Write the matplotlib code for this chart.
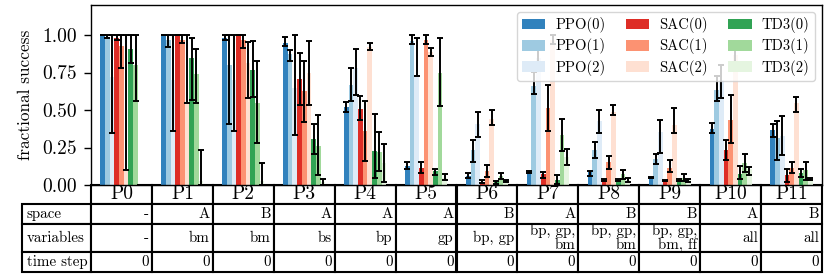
import numpy as np
import matplotlib
matplotlib.use("Agg")
from matplotlib import pyplot as plt

plt.rcParams['font.family'] = 'serif'
plt.rcParams['font.serif'] = ['cmr10', 'DejaVu Serif']
plt.rcParams['mathtext.fontset'] = 'cm'
plt.rcParams['axes.formatter.use_mathtext'] = True

# problemas e tabela
problems = ['P%d' % i for i in range(12)]
row_labels = ['space', 'variables', 'time step']
space = ['-', 'A', 'B', 'A', 'A', 'A', 'B', 'A', 'B', 'B', 'A', 'B']
variables = ['-', 'bm', 'bm', 'bs', 'bp', 'gp', 'bp, gp', 'bp, gp,\nbm',
             'bp, gp,\nbm', 'bp, gp,\nbm, ff', 'all', 'all']
time_step = ['0'] * 12

labels = ['PPO(0)', 'PPO(1)', 'PPO(2)', 'SAC(0)', 'SAC(1)', 'SAC(2)',
          'TD3(0)', 'TD3(1)', 'TD3(2)']
colors = ['#3182bd', '#9ecae1', '#deebf7', '#de2d26', '#fc9272', '#fee0d2',
          '#31a354', '#a1d99b', '#e5f5e0']

# valores (barra, limite inferior, limite superior)
ppo0 = [1.00, 1.00, 0.98, 0.95, 0.52, 0.13, 0.062, 0.089, 0.085, 0.049, 0.375, 0.368]
ppo0_lo = [1.00, 1.00, 0.965, 0.925, 0.486, 0.107, 0.045, 0.082, 0.062, 0.045, 0.346, 0.323]
ppo0_hi = [1.00, 1.00, 1.00, 0.99, 0.553, 0.152, 0.078, 0.095, 0.096, 0.053, 0.413, 0.406]

ppo1 = [0.99, 0.97, 0.80, 0.875, 0.67, 0.963, 0.234, 0.66, 0.234, 0.174, 0.635, 0.312]
ppo1_lo = [0.98, 0.92, 0.41, 0.825, 0.56, 0.937, 0.156, 0.61, 0.183, 0.138, 0.557, 0.167]
ppo1_hi = [1.00, 1.00, 1.00, 0.90, 0.78, 0.997, 0.30, 0.755, 0.29, 0.21, 0.725, 0.424]

ppo2 = [0.72, 0.70, 0.70, 0.65, 0.78, 0.735, 0.406, 0.85, 0.424, 0.352, 0.70, 0.33]
ppo2_lo = [0.35, 0.36, 0.36, 0.335, 0.60, 0.73, 0.323, 0.78, 0.345, 0.212, 0.58, 0.20]
ppo2_hi = [1.00, 1.00, 1.00, 1.00, 0.91, 0.977, 0.486, 0.915, 0.50, 0.435, 0.80, 0.457]

sac0 = [0.98, 1.00, 1.00, 0.71, 0.51, 0.116, 0.022, 0.071, 0.033, 0.031, 0.234, 0.067]
sac0_lo = [0.97, 1.00, 1.00, 0.535, 0.435, 0.078, 0.011, 0.045, 0.03, 0.027, 0.167, 0.022]
sac0_hi = [1.00, 1.00, 1.00, 0.88, 0.595, 0.156, 0.031, 0.089, 0.037, 0.035, 0.30, 0.107]

sac1 = [0.925, 0.97, 0.97, 0.625, 0.357, 0.97, 0.094, 0.513, 0.156, 0.116, 0.435, 0.116]
sac1_lo = [0.78, 0.95, 0.915, 0.42, 0.16, 0.937, 0.056, 0.357, 0.107, 0.085, 0.279, 0.078]
sac1_hi = [1.00, 1.00, 1.00, 0.825, 0.557, 0.997, 0.134, 0.669, 0.194, 0.167, 0.60, 0.152]

sac2 = [0.11, 0.55, 0.81, 0.745, 0.92, 0.89, 0.44, 0.97, 0.486, 0.40, 0.87, 0.55]
sac2_lo = [0.10, 0.55, 0.58, 0.535, 0.90, 0.858, 0.40, 0.94, 0.468, 0.346, 0.80, 0.49]
sac2_hi = [1.00, 1.00, 0.955, 0.96, 0.95, 0.914, 0.50, 1.00, 0.535, 0.513, 0.94, 0.59]

td3_0 = [0.91, 0.85, 0.77, 0.31, 0.227, 0.096, 0.018, 0.033, 0.033, 0.033, 0.071, 0.078]
td3_0_lo = [0.81, 0.57, 0.585, 0.21, 0.045, 0.07, 0.01, 0.004, 0.028, 0.028, 0.04, 0.056]
td3_0_hi = [1.00, 0.98, 0.96, 0.405, 0.475, 0.11, 0.025, 0.067, 0.038, 0.038, 0.13, 0.107]

td3_1 = [0.80, 0.74, 0.55, 0.26, 0.22, 0.747, 0.062, 0.335, 0.071, 0.049, 0.145, 0.10]
td3_1_lo = [0.56, 0.55, 0.28, 0.067, 0.094, 0.524, 0.04, 0.227, 0.04, 0.027, 0.09, 0.033]
td3_1_hi = [1.00, 0.91, 0.83, 0.465, 0.352, 0.977, 0.082, 0.44, 0.10, 0.071, 0.205, 0.156]

td3_2 = [0.0, 0.03, 0.03, 0.02, 0.15, 0.05, 0.027, 0.19, 0.033, 0.033, 0.107, 0.04]
td3_2_lo = [0.0, 0.0, 0.0, 0.0, 0.018, 0.033, 0.018, 0.134, 0.018, 0.022, 0.067, 0.035]
td3_2_hi = [0.0, 0.234, 0.145, 0.04, 0.274, 0.071, 0.036, 0.24, 0.045, 0.042, 0.123, 0.045]

series = [(ppo0, ppo0_lo, ppo0_hi), (ppo1, ppo1_lo, ppo1_hi), (ppo2, ppo2_lo, ppo2_hi),
          (sac0, sac0_lo, sac0_hi), (sac1, sac1_lo, sac1_hi), (sac2, sac2_lo, sac2_hi),
          (td3_0, td3_0_lo, td3_0_hi), (td3_1, td3_1_lo, td3_1_hi), (td3_2, td3_2_lo, td3_2_hi)]

fig = plt.figure(figsize=(8.3, 2.77), dpi=100)
ax = fig.add_axes([91 / 830, 1 - 185 / 277, 731 / 830, 180 / 277])

x = np.arange(len(problems))
w = 0.077
for i, (vals, lo, hi) in enumerate(series):
    vals = np.array(vals)
    yerr = [vals - np.array(lo), np.array(hi) - vals]
    ax.bar(x + (i - 4) * w, vals, w, color=colors[i], label=labels[i],
           yerr=yerr, capsize=2.0,
           error_kw=dict(ecolor='black', elinewidth=1.4, capthick=1.4))

ax.set_xlim(-0.5, 11.5)
ax.set_ylim(0, 1.2)
ax.set_yticks([0, 0.25, 0.5, 0.75, 1.0])
ax.set_yticklabels(['%.2f' % t for t in [0, 0.25, 0.5, 0.75, 1.0]], fontsize=14)
ax.tick_params(axis='y', length=5, width=1.0, pad=5)
ax.set_xticks([])
ax.set_ylabel('fractional success', fontsize=12.4)
ax.yaxis.set_label_coords(-0.08, 0.5)
for s in ax.spines.values():
    s.set_linewidth(1.0)

ax.legend(ncol=3, loc='upper right', fontsize=10.5, handlelength=1.6,
          columnspacing=1.4, borderaxespad=0.5, labelspacing=0.35,
          handletextpad=0.7, borderpad=0.35)

# tabela embaixo (tamanhos em coordenadas do eixo)
cell_text = [space, variables, time_step]
heights = {0: 19 / 180, 1: 20 / 180, 2: 28 / 180, 3: 20 / 180}
tab = ax.table(cellText=cell_text, rowLabels=row_labels, colLabels=problems,
               cellLoc='right', rowLoc='left', colLoc='center',
               bbox=[0, -87 / 180, 1, 87 / 180])
tab.auto_set_font_size(False)
for (r, c), cell in tab.get_celld().items():
    cell.set_linewidth(1.5)
    cell.set_height(heights[r])
    cell.set_width(75 / 731 if c == -1 else 1 / 12)
    if r == 0:
        cell.get_text().set_fontsize(14)
    else:
        cell.get_text().set_fontsize(10.8)
        cell.get_text().set_linespacing(1.0)
        if c == -1:
            cell.PAD = 0.07
        else:
            cell.PAD = 0.05

fig.savefig('out.png', dpi=100)
